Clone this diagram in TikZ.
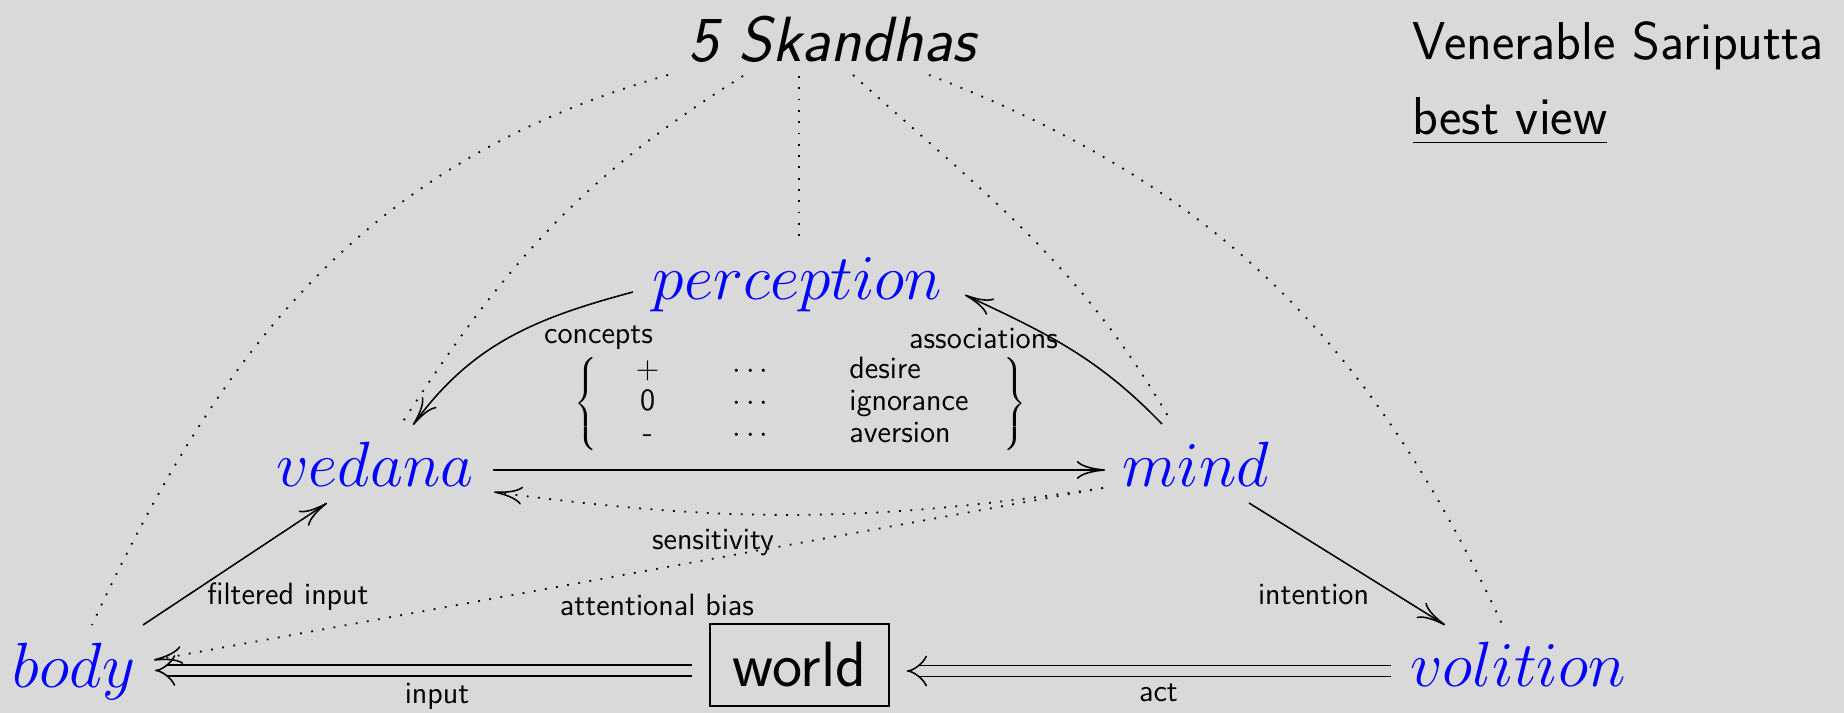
\documentclass[tikz,border=0pt]{standalone}
\usetikzlibrary{arrows.meta}
\definecolor{bgc}{RGB}{217,217,217}
\newsavebox\ulbox
\newcommand\myul[1]{\sbox\ulbox{#1}\rlap{\rule[-3.3pt]{\wd\ulbox}{0.6pt}}\usebox\ulbox}
\newcommand\mrow[2]{\makebox[38.9pt][c]{#1}\makebox[41.2pt][c]{$\cdots$}\hspace{17.9pt}\makebox[59.9pt][l]{#2}}
\tikzset{
  mnode/.style={font=\Huge, text=blue, inner sep=0pt, anchor=base},
  lbl/.style={font=\sffamily\large, inner sep=0pt, anchor=base},
  arr/.style={line width=0.6pt, -{To[length=11pt,width=7pt]}},
  dotarr/.style={line width=0.7pt, dash pattern=on 0.7pt off 3.7pt, -{To[length=11pt,width=7pt,line width=0.6pt]}},
  dotln/.style={line width=0.7pt, dash pattern=on 0.7pt off 3.7pt},
  dblarr/.style={double=bgc, double distance=3.7pt, line width=0.6pt, -{Implies[length=10pt,width=15pt]}},
}
\begin{document}
\begin{tikzpicture}[x=0.3891pt,y=0.3891pt]
\fill[bgc] (0,0) rectangle (1844,713);
\useasboundingbox (0,0) rectangle (1844,713);
% nodes
\node[font=\Huge\sffamily\slshape, inner sep=0pt, anchor=base] (sk) at (832,651) {5 Skandhas};
\node[font=\huge\sffamily, inner sep=0pt, anchor=base west] (ven) at (1412,653) {Venerable Sariputta};
\node[font=\huge\sffamily, inner sep=0pt, anchor=base west] (bv) at (1412,578) {\myul{best view}};
\node[mnode] (perc) at (797.5,413) {$perception$};
\node[mnode] (ved) at (375,226) {$vedana$};
\node[mnode] (mind) at (1196,226) {$mind$};
\node[mnode] (body) at (74,25) {$body$};
\node[mnode] (vol) at (1518,26) {$volition$};
\node[draw, line width=0.6pt, font=\sffamily\Huge, inner sep=0pt, minimum width=69.6pt, minimum height=31.9pt] (world) at (799.5,48) {world};
\node[font=\sffamily\fontsize{12}{12.5}\selectfont, inner sep=0pt] (mx) at (800.5,309)
  {$\left\{\begin{array}{@{}l@{}}\mrow{$+$}{desire}\\\mrow{0}{ignorance}\\\mrow{-}{aversion}\end{array}\right\}$};
% labels
\node[lbl] (lconc) at (598.5,369) {concepts};
\node[lbl] (lass) at (983.5,364) {associations};
\node[lbl] (lsens) at (713,163) {sensitivity};
\node[lbl] (latt) at (657,97) {attentional bias};
\node[lbl] (lfilt) at (288,108) {filtered input};
\node[lbl] (lint) at (1313.5,108) {intention};
\node[lbl] (linp) at (437,9) {input};
\node[lbl] (lact) at (1158.5,11) {act};
% connectors
\draw[arr] ([shift={(-164.5,8)}]perc.base) to[out=195,in=54] ([shift={(38,62)}]ved.base);
\draw[arr] ([shift={(-34,63)}]mind.base) to[out=134,in=-25] ([shift={(167.5,5)}]perc.base);
\draw[arr] ([shift={(118,17)}]ved.base) -- ([shift={(-91,17)}]mind.base);
\draw[dotarr] ([shift={(-93,-1)}]mind.base) to[bend left=8] ([shift={(119,-5)}]ved.base);
\draw[dotarr] ([shift={(-93,-1)}]mind.base) -- ([shift={(80,28)}]body.base);
\draw[arr] ([shift={(69,63)}]body.base) -- ([shift={(-48,-16)}]ved.base);
\draw[arr] ([shift={(53,-16)}]mind.base) -- ([shift={(-73,62)}]vol.base);
\draw[dblarr] ([shift={(-17,-5.5)}]world.west) -- ([shift={(81,17.5)}]body.base);
\draw[dblarr] ([shift={(-127,16)}]vol.base) -- ([shift={(17,-6)}]world.east);
% dotted lines from the 5 Skandhas
\draw[dotln] ([shift={(-164,-13)}]sk.base) to[out=196,in=65] ([shift={(18,63)}]body.base);
\draw[dotln] ([shift={(-89,-14)}]sk.base) to[out=212,in=57] ([shift={(27,64)}]ved.base);
\draw[dotln] ([shift={(-33,-14)}]sk.base) -- ([shift={(1.5,60)}]perc.base);
\draw[dotln] ([shift={(21,-13)}]sk.base) to[out=-42,in=120] ([shift={(-24,64)}]mind.base);
\draw[dotln] ([shift={(97,-13)}]sk.base) to[out=-21,in=115] ([shift={(-16,63)}]vol.base);
\end{tikzpicture}
\end{document}
